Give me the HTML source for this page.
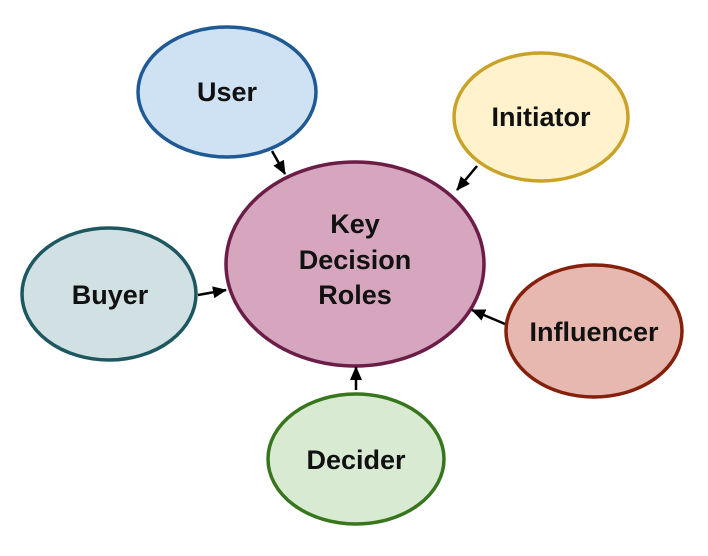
<!DOCTYPE html>
<html><head><meta charset="utf-8"><style>html,body{margin:0;padding:0;background:#fff}svg{display:block}</style></head>
<body>
<svg width="708" height="556" viewBox="0 0 708 556" xmlns="http://www.w3.org/2000/svg">
<defs>
<marker id="b" markerWidth="14" markerHeight="12" refX="13" refY="6" orient="auto" markerUnits="userSpaceOnUse"><path d="M0,0 L14,6 L0,12 z" fill="#000"/></marker></defs>
<g stroke-width="3.5">
<ellipse cx="227" cy="92" rx="89" ry="65" fill="#cfe2f3" stroke="#1f5a94"/>
<ellipse cx="541" cy="117" rx="87" ry="64" fill="#fff2cc" stroke="#c9a227"/>
<ellipse cx="355" cy="264" rx="129" ry="102" fill="#d5a6bd" stroke="#6b1d48"/>
<ellipse cx="109" cy="294" rx="87" ry="66" fill="#d0e0e3" stroke="#1d5760"/>
<ellipse cx="594" cy="331" rx="88" ry="66" fill="#e6b8af" stroke="#85200c"/>
<ellipse cx="356" cy="459" rx="88" ry="65" fill="#d9ead3" stroke="#38761d"/>
</g>
<g stroke="#000" stroke-width="2.5" marker-end="url(#b)">
<line x1="272" y1="151" x2="285" y2="174"/>
<line x1="477" y1="166" x2="457" y2="190"/>
<line x1="198" y1="295" x2="226" y2="290"/>
<line x1="505" y1="324" x2="472" y2="310"/>
<line x1="356" y1="390" x2="356" y2="367"/>
</g>
<g font-family="Liberation Sans, sans-serif" font-weight="bold" font-size="27" fill="#111" text-anchor="middle">
<text x="227" y="101">User</text>
<text x="541" y="126">Initiator</text>
<text x="355" y="233">Key</text>
<text x="355" y="269">Decision</text>
<text x="355" y="304">Roles</text>
<text x="110" y="304">Buyer</text>
<text x="594" y="341">Influencer</text>
<text x="356" y="469">Decider</text>
</g>
</svg>
</body></html>
